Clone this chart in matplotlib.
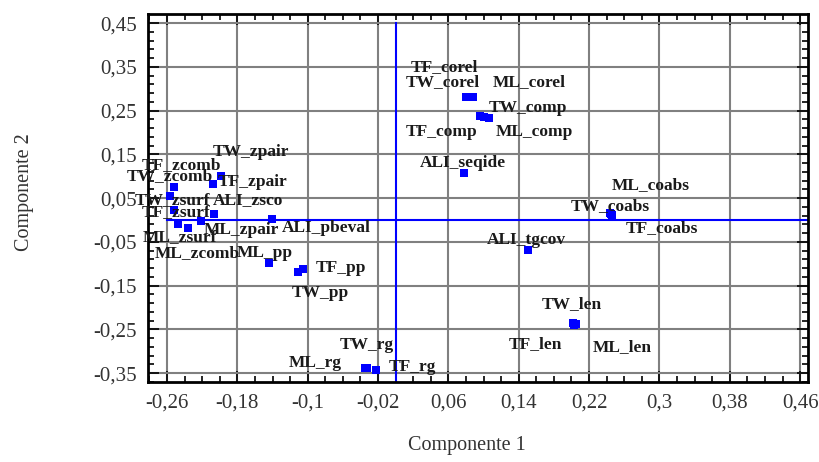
import numpy as np
import matplotlib
matplotlib.use("Agg")
import matplotlib.pyplot as plt
from matplotlib.ticker import MultipleLocator, FixedLocator, FuncFormatter

# ---- data ----
labels = [
    "TF_corel", "TW_corel", "ML_corel",
    "TF_comp", "TW_comp", "ML_comp",
    "ALI_seqide",
    "ML_coabs", "TW_coabs", "TF_coabs",
    "ALI_tgcov",
    "TW_len", "TF_len", "ML_len",
    "ML_pp", "TF_pp", "TW_pp",
    "TW_rg", "ML_rg", "TF_rg",
    "TF_zcomb", "TW_zcomb", "TW_zsurf", "TF_zsurf", "ML_zsurf", "ML_zcomb",
    "ML_zpair", "ALI_zsco", "TW_zpair", "TF_zpair",
    "ALI_pbeval",
]
comp1 = [
    0.080, 0.084, 0.088,
    0.096, 0.100, 0.106,
    0.078,
    0.245, 0.244, 0.246,
    0.151,
    0.202, 0.203, 0.205,
    -0.144, -0.105, -0.111,
    -0.033, -0.035, -0.022,
    -0.252, -0.2566, -0.252, -0.2475, -0.236, -0.221,
    -0.2065, -0.206, -0.2077, -0.1986,
    -0.1405,
]
comp2 = [
    0.281, 0.281, 0.281,
    0.238, 0.236, 0.233,
    0.107,
    0.014, 0.016, 0.012,
    -0.069,
    -0.236, -0.240, -0.238,
    -0.099, -0.112, -0.119,
    -0.338, -0.339, -0.343,
    0.075, 0.055, 0.023, -0.009, -0.019, -0.002,
    0.0134, 0.0145, 0.082, 0.100,
    0.002,
]
x_ticks = [-0.26, -0.18, -0.10, -0.02, 0.06, 0.14, 0.22, 0.30, 0.38, 0.46]
y_ticks = [-0.35, -0.25, -0.15, -0.05, 0.05, 0.15, 0.25, 0.35, 0.45]

# label offsets (pixels, from point to label centre)
offsets = {
    "TF_corel": (-22, 30), "TW_corel": (-27, 15), "ML_corel": (56, 15),
    "TF_comp": (-38, -16), "TW_comp": (44, 9), "ML_comp": (46, -14),
    "ALI_seqide": (-1, 10),
    "ML_coabs": (40, 29), "TW_coabs": (0, 7), "TF_coabs": (50, -13),
    "ALI_tgcov": (-2, 10),
    "TW_len": (-1, 19), "TF_len": (-39, -19), "ML_len": (46, -23),
    "ML_pp": (-4, 10), "TF_pp": (38, 1), "TW_pp": (22, -21),
    "TW_rg": (0, 23), "ML_rg": (-50, 5), "TF_rg": (36, 3),
    "TF_zcomb": (7, 22), "TW_zcomb": (0, 20), "TW_zsurf": (-2, 10),
    "TF_zsurf": (-2, 12), "ML_zsurf": (-8, -9), "ML_zcomb": (-4, -32),
    "ML_zpair": (27, -16), "ALI_zsco": (34, 14), "TW_zpair": (38, 32),
    "TF_zpair": (32, -6), "ALI_pbeval": (54, -9),
}

SERIF = ["Liberation Serif", "DejaVu Serif"]
BLUE = "#0000ff"

fig = plt.figure(figsize=(8.2, 4.62), dpi=100)
ax = fig.add_axes([148 / 820, 1 - 382 / 462, 660 / 820, 368 / 462])
ax.set_xlim(-0.2816, 0.469)
ax.set_ylim(-0.370, 0.471)

ax.grid(True, which="major", color="#808080", linewidth=1.5, zorder=0)
ax.set_axisbelow(True)

# reference lines at zero
ax.plot([-0.26, 0.469], [0, 0], color=BLUE, linewidth=1.5, zorder=2)
ax.plot([0, 0], [-0.370, 0.45], color=BLUE, linewidth=1.5, zorder=2)

ax.scatter(comp1, comp2, marker="s", s=26, color=BLUE, zorder=3, linewidths=0)

for lab, xv, yv in zip(labels, comp1, comp2):
    dx, dy = offsets[lab]
    ax.annotate(lab, (xv, yv), xytext=(dx, dy), textcoords="offset pixels",
                ha="center", va="center", fontsize=12.5, fontweight="bold",
                family=SERIF, color="#1a1a1a", zorder=4)

ax.xaxis.set_major_locator(FixedLocator(x_ticks))
ax.yaxis.set_major_locator(FixedLocator(y_ticks))
ax.xaxis.set_minor_locator(MultipleLocator(0.02))
ax.yaxis.set_minor_locator(FixedLocator(np.round(np.arange(-0.37, 0.47, 0.02), 3)))


def fmt(v, pos):
    s = f"{round(v, 3):g}"
    return s.replace(".", ",")


ax.xaxis.set_major_formatter(FuncFormatter(fmt))
ax.yaxis.set_major_formatter(FuncFormatter(fmt))
ax.tick_params(which="both", direction="in", top=True, right=True,
               color="black", width=1.2)
ax.tick_params(which="major", length=8, labelsize=15, pad=8)
ax.tick_params(which="minor", length=4)
for lab in ax.get_xticklabels() + ax.get_yticklabels():
    lab.set_family(SERIF)
    lab.set_color("#333333")
for sp in ax.spines.values():
    sp.set_linewidth(2)
    sp.set_color("black")

ax.set_xlabel("Componente 1", family=SERIF, fontsize=14.5, color="#333333")
ax.set_ylabel("Componente 2", family=SERIF, fontsize=14.5, color="#333333")
ax.xaxis.set_label_coords((467 - 148) / 660, -(436 - 382) / 368)
ax.yaxis.set_label_coords(-(148 - 34) / 660, (382 - 192) / 368)

fig.savefig("out.png", dpi=100)
